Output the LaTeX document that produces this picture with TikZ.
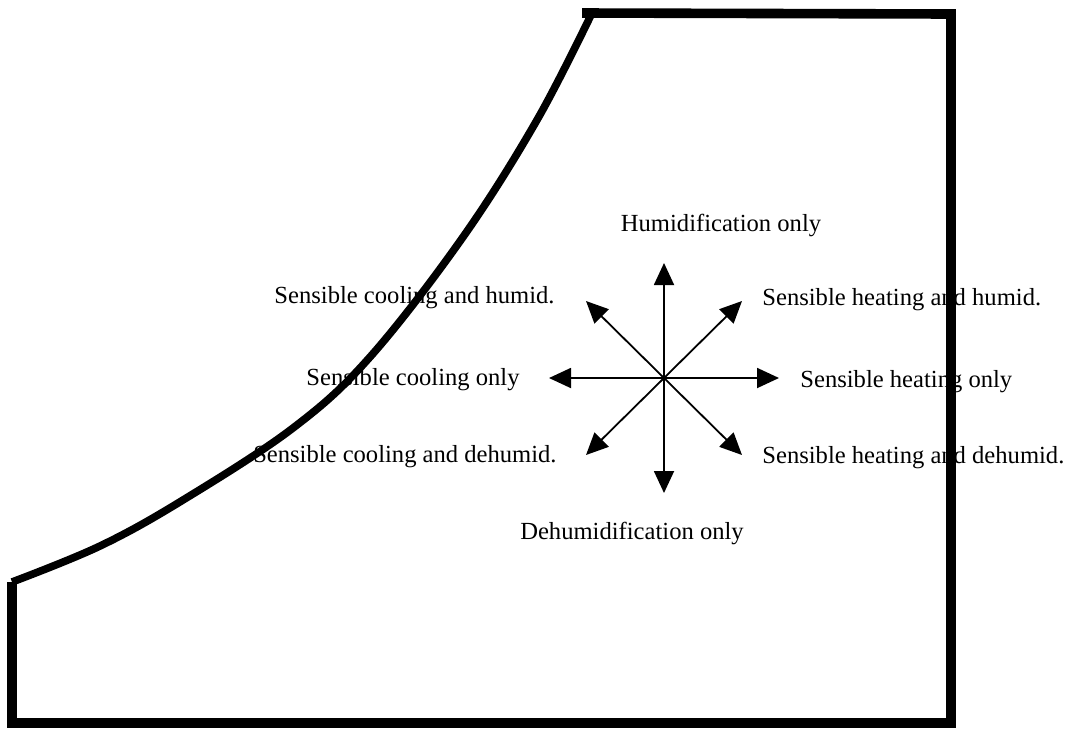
\documentclass[tikz,border=0pt]{standalone}
\usepackage{fontspec}
\setmainfont{Liberation Serif}
\usetikzlibrary{arrows.meta,positioning}

\begin{document}
\begin{tikzpicture}[x=0.5pt,y=-0.5pt,
	lbl/.style={font=\fontsize{12.3}{14}\selectfont,inner sep=0pt},
	dir/.style={-{Triangle[length=11pt,width=10pt]},line width=0.9pt},
	frame/.style={line width=4.8pt,line join=miter}]
	\useasboundingbox (0,0) rectangle (1068,729);

	% chart outline
	\coordinate (sat) at (12,582);
	\coordinate (top) at (592,13);
	\draw[line width=3.8pt] plot[smooth,tension=0.6] coordinates
		{(12,582) (100,546) (183,500) (293,428) (370,357) (463,237)
		 (537,120) (592,13)};
	\draw[frame] (582,13) -- (951,14) -- (951,723) -- (12,723) -- (sat);

	% process directions
	\coordinate (o) at (664,378);
	\coordinate (n) at (664,263);
	\coordinate (s) at (664,493);
	\coordinate (e) at (779,378);
	\coordinate (w) at (549,378);
	\coordinate (ne) at (742,301);
	\coordinate (nw) at (586,301);
	\coordinate (se) at (742,455);
	\coordinate (sw) at (586,455);
	\path[dir]
		(o) edge (n) edge (s) edge (e) edge (w)
		edge (ne) edge (nw) edge (se) edge (sw);

	\node[lbl,anchor=base] (hum) at (721,231) {Humidification only};
	\node[lbl,anchor=base] (dehum) at (632,539) {Dehumidification only};
	\node[lbl,anchor=base west] (hthum) at (762,305) {Sensible heating and humid.};
	\node[lbl,anchor=base west] (ht) at (800,387) {Sensible heating only};
	\node[lbl,anchor=base west] (htdehum) at (762,463) {Sensible heating and dehumid.};
	\node[lbl,anchor=base east] (clhum) at (555,303) {Sensible cooling and humid.};
	\node[lbl,anchor=base east] (cl) at (520,385) {Sensible cooling only};
	\node[lbl,anchor=base east] (cldehum) at (557,462) {Sensible cooling and dehumid.};
\end{tikzpicture}
\end{document}
